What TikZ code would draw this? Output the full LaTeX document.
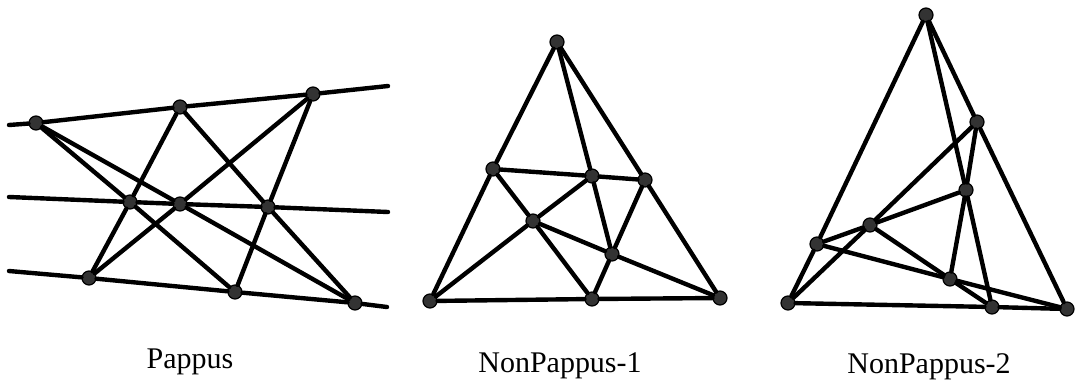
\documentclass[tikz,border=0pt]{standalone}
\usepackage{fontspec}
\setmainfont{Liberation Serif}
\usepackage{tikz}
\usetikzlibrary{positioning}

\begin{document}
\begin{tikzpicture}[x=0.75pt, y=-0.75pt]
	% Styles
	\tikzstyle{pt} = [draw=black, fill=black!80, circle, inner sep=0pt, minimum size=10.5pt, line width=0.9pt]
	\tikzstyle{edge} = [line width=3.3pt, line cap=round]
	\tikzstyle{caption} = [anchor=base, font=\fontsize{22.5}{27}\selectfont]

	\useasboundingbox (0,0) rectangle (1075,386);

	% Pappus
	\coordinate (tl) at (9,125);  \coordinate (tr) at (388,86);
	\coordinate (ml) at (9,197);  \coordinate (mr) at (388,212);
	\coordinate (bl) at (9,271);  \coordinate (br) at (387,307);
	\node (a1) [pt] at (36,123) {};
	\node (a2) [pt] at (180,107) {};
	\node (a3) [pt] at (313,94) {};
	\node (b1) [pt] at (130,202) {};
	\node (b2) [pt] at (180,204) {};
	\node (b3) [pt] at (268,207) {};
	\node (c1) [pt] at (89,278) {};
	\node (c2) [pt] at (235,292) {};
	\node (c3) [pt] at (355,303) {};
	\node (pappus) [caption] at (190,368) {Pappus};

	\draw [edge] (tl) -- (a1) -- (a2) -- (a3) -- (tr);
	\draw [edge] (ml) -- (b1) -- (b2) -- (b3) -- (mr);
	\draw [edge] (bl) -- (c1) -- (c2) -- (c3) -- (br);
	\draw [edge] (a1) -- (b1) -- (c2);
	\draw [edge] (a1) -- (b2) -- (c3);
	\draw [edge] (a2) -- (b1) -- (c1);
	\draw [edge] (a2) -- (b3) -- (c3);
	\draw [edge] (a3) -- (b2) -- (c1);
	\draw [edge] (a3) -- (b3) -- (c2);

	% NonPappus-1
	\node (ntop) [pt] at (557,42) {};
	\node (nl) [pt] at (493,169) {};
	\node (nm) [pt] at (592,176) {};
	\node (nr) [pt] at (645,180) {};
	\node (nc) [pt] at (533,221) {};
	\node (nd) [pt] at (612,254) {};
	\node (nbl) [pt] at (430,301) {};
	\node (nbm) [pt] at (592,299) {};
	\node (nbr) [pt] at (720,298) {};
	\node (nonpappusA) [caption] at (560,372) {NonPappus-1};

	\draw [edge] (ntop) -- (nl) -- (nbl);
	\draw [edge] (ntop) -- (nr) -- (nbr);
	\draw [edge] (ntop) -- (nm) -- (nd) -- (nbm);
	\draw [edge] (nl) -- (nm) -- (nr);
	\draw [edge] (nl) -- (nc) -- (nbm);
	\draw [edge] (nbl) -- (nc) -- (nm);
	\draw [edge] (nc) -- (nd) -- (nbr);
	\draw [edge] (nr) -- (nd);
	\draw [edge] (nbl) -- (nbm) -- (nbr);

	% NonPappus-2
	\node (mtop) [pt] at (926,15) {};
	\node (mp) [pt] at (977,122) {};
	\node (mq) [pt] at (966,190) {};
	\node (ms) [pt] at (870,225) {};
	\node (ml) [pt] at (817,244) {};
	\node (md) [pt] at (950,279) {};
	\node (mbl) [pt] at (788,303) {};
	\node (mbm) [pt] at (992,307) {};
	\node (mbr) [pt] at (1067,309) {};
	\node (nonpappusB) [caption] at (929,373) {NonPappus-2};

	\draw [edge] (mtop) -- (ml) -- (mbl);
	\draw [edge] (mtop) -- (mp) -- (mbr);
	\draw [edge] (mtop) -- (mq) -- (mbm);
	\draw [edge] (mp) -- (ms) -- (mbl);
	\draw [edge] (mp) -- (mq) -- (md);
	\draw [edge] (ml) -- (ms) -- (mq);
	\draw [edge] (ms) -- (md) -- (mbm);
	\draw [edge] (ml) -- (md) -- (mbr);
	\draw [edge] (mbl) -- (mbm) -- (mbr);
\end{tikzpicture}
\end{document}
